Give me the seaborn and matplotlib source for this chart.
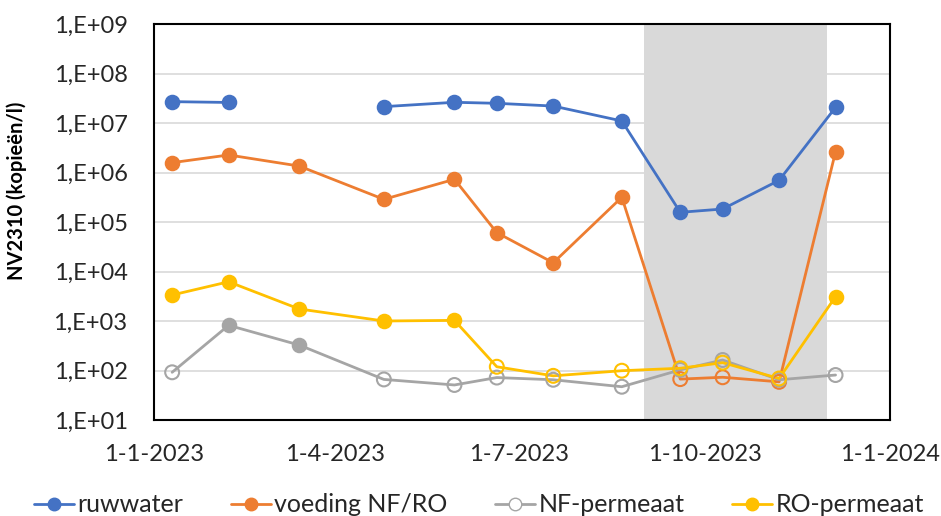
import numpy as np
import pandas as pd
import matplotlib
matplotlib.use("Agg")
import matplotlib.pyplot as plt
import matplotlib.dates as mdates
from matplotlib.ticker import FixedLocator, FuncFormatter, NullFormatter
from matplotlib.lines import Line2D
import seaborn as sns

# ---- data ----
dates = ["2023-01-10", "2023-02-07", "2023-03-14", "2023-04-25", "2023-05-30",
         "2023-06-20", "2023-07-18", "2023-08-21", "2023-09-19", "2023-10-10",
         "2023-11-07", "2023-12-05"]
ruwwater = [2.7e7, 2.6e7, np.nan, 2.14e7, 2.62e7, 2.5e7, 2.2e7, 1.1e7, 1.57e5, 1.83e5, 6.95e5, 2.07e7]
voeding = [1.58e6, 2.26e6, 1.35e6, 2.87e5, 7.3e5, 6.1e4, 1.5e4, 3.16e5, 67, 73, 59, 2.63e6]
nf_perm = [92, 818, 327, 66, 51, 72, 65, 47, 103, 163, 65, 81]
ro_perm = [3.35e3, 6.2e3, 1.75e3, 1.0e3, 1.03e3, 119, 78, 99, 111, 144, 69, 3.1e3]
# open marker (below detection) flags
ruwwater_open = [0, 0, 0, 0, 0, 0, 0, 0, 0, 0, 0, 0]
voeding_open = [0, 0, 0, 0, 0, 0, 0, 0, 1, 1, 1, 0]
nf_open = [1, 0, 0, 1, 1, 1, 1, 1, 1, 1, 1, 1]
ro_open = [0, 0, 0, 0, 0, 1, 1, 1, 1, 1, 1, 0]

series_names = ["ruwwater", "voeding NF/RO", "NF-permeaat", "RO-permeaat"]
series_vals = [ruwwater, voeding, nf_perm, ro_perm]
series_open = [ruwwater_open, voeding_open, nf_open, ro_open]
colors = ["#4472C4", "#ED7D31", "#A5A5A5", "#FFC000"]

shade_start, shade_end = "2023-09-01", "2023-12-01"
x_min, x_max = "2023-01-01", "2024-01-01"
y_ticks = [1e1, 1e2, 1e3, 1e4, 1e5, 1e6, 1e7, 1e8, 1e9]
y_label = "NV2310 (kopieën/l)"

# ---- style ----
sns.set_theme(style="white")
plt.rcParams["font.family"] = ["Lato", "DejaVu Sans"]
FS = 17

fig = plt.figure(figsize=(9.41, 5.16), dpi=100)
ax = fig.add_axes([154 / 941, 1 - 420 / 516, (890 - 154) / 941, (420 - 24) / 516])

ax.axvspan(pd.Timestamp(shade_start), pd.Timestamp(shade_end), color="#d9d9d9", zorder=0.2, lw=0)

for name, vals, opn, col in zip(series_names, series_vals, series_open, colors):
    df = pd.DataFrame({"date": pd.to_datetime(dates), "val": vals, "open": opn})
    # segments broken at missing values
    df["seg"] = df["val"].isna().cumsum()
    d = df.dropna()
    sns.lineplot(data=d, x="date", y="val", units="seg", estimator=None, sort=False,
                 color=col, lw=2.0, ax=ax, zorder=2)
    filled = d[d["open"] == 0]
    hollow = d[d["open"] == 1]
    if len(filled):
        sns.scatterplot(data=filled, x="date", y="val", color=col, s=100, edgecolor=col,
                        linewidth=1.2, ax=ax, zorder=3)
    if len(hollow):
        sns.scatterplot(data=hollow, x="date", y="val", facecolor="none", edgecolor=col,
                        s=100, linewidth=1.5, ax=ax, zorder=3)

ax.set_yscale("log")
ax.set_ylim(1e1, 1e9)
ax.yaxis.set_major_locator(FixedLocator(y_ticks))
ax.yaxis.set_minor_formatter(NullFormatter())
ax.yaxis.set_minor_locator(FixedLocator([]))
ax.yaxis.set_major_formatter(FuncFormatter(lambda v, p: "1,E+%02d" % int(round(np.log10(v)))))

ax.set_xlim(pd.Timestamp(x_min), pd.Timestamp(x_max))
ax.xaxis.set_major_locator(mdates.MonthLocator(bymonth=[1, 4, 7, 10]))
ax.xaxis.set_minor_locator(mdates.MonthLocator())
ax.xaxis.set_major_formatter(FuncFormatter(
    lambda v, p: "{0.day}-{0.month}-{0.year}".format(mdates.num2date(v))))

ax.grid(axis="y", color="#d9d9d9", lw=1.2)
ax.set_axisbelow(True)
for s in ax.spines.values():
    s.set_color("black")
    s.set_linewidth(1.5)
ax.tick_params(axis="both", which="both", direction="out", length=5, width=1.5, color="black",
               labelsize=FS, labelcolor="#262626")
ax.tick_params(axis="x", pad=12)
ax.tick_params(axis="y", pad=14)
ax.set_xlabel("")
ax.set_ylabel(y_label, fontsize=14.5, fontweight="bold", color="black")
ax.yaxis.set_label_coords(-0.1726, 0.578)

handles = []
for name, col, opn in zip(series_names, colors, series_open):
    is_open = name == "NF-permeaat"
    handles.append(Line2D([0], [0], color=col, lw=2.0, marker="o", markersize=9,
                          markerfacecolor="white" if is_open else col, markeredgecolor=col))
leg = fig.legend(handles, series_names, loc="center", bbox_to_anchor=(479 / 941, 1 - 505 / 516),
                 ncol=4, frameon=False, fontsize=18, handlelength=1.6, handletextpad=0.15,
                 columnspacing=1.9)
for t in leg.get_texts():
    t.set_color("#262626")

fig.savefig("out.png", dpi=100)
